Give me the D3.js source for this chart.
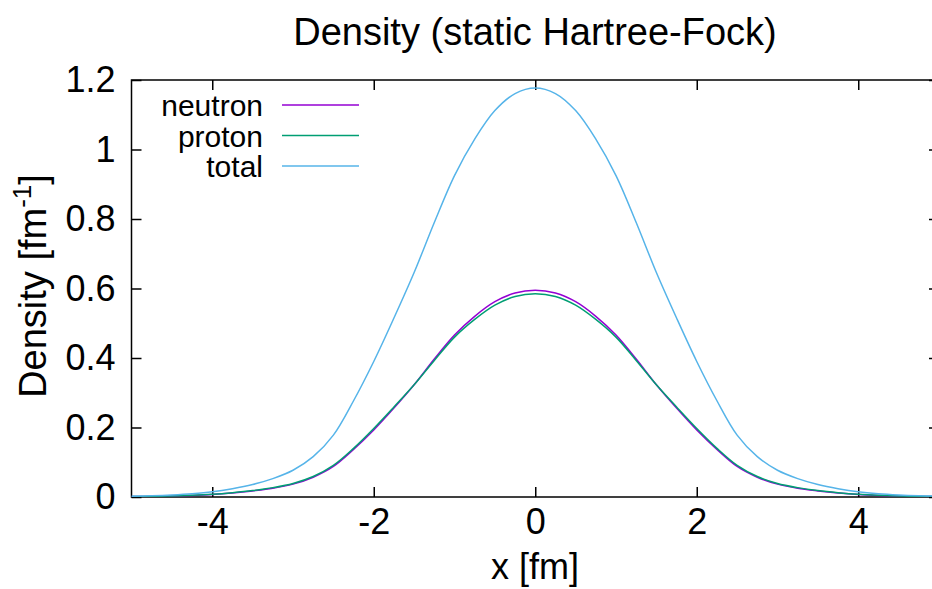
<!DOCTYPE html>
<html lang="en">
<head>
<meta charset="UTF-8">
<title>Density</title>
<script src="https://cdn.jsdelivr.net/npm/d3@7"></script>
<style>
    body { margin: 0; background: #fff; }
    text { font-family: "Liberation Sans", Arial, Helvetica, sans-serif; fill: #000; }
</style>
</head>
<body>
<div id="chart"></div>
<script>
    // data (x in fm, density in fm^-1), step 0.25 fm
    const xs = [-5, -4.75, -4.5, -4.25, -4, -3.75, -3.5, -3.25, -3, -2.75, -2.5, -2.25, -2, -1.75, -1.5, -1.25, -1, -0.75, -0.5, -0.25,
        0, 0.25, 0.5, 0.75, 1, 1.25, 1.5, 1.75, 2, 2.25, 2.5, 2.75, 3, 3.25, 3.5, 3.75, 4, 4.25, 4.5, 4.75, 5];
    const neutron = [0.0011, 0.0018, 0.0029, 0.0046, 0.0072, 0.0116, 0.0175, 0.025, 0.037, 0.057, 0.088, 0.137, 0.193, 0.256, 0.323, 0.397, 0.466, 0.520, 0.562, 0.587,
        0.595, 0.587, 0.562, 0.520, 0.466, 0.397, 0.323, 0.256, 0.193, 0.137, 0.088, 0.057, 0.037, 0.025, 0.0175, 0.0116, 0.0072, 0.0046, 0.0029, 0.0018, 0.0011];
    const proton = [0.0012, 0.0019, 0.0031, 0.0049, 0.0078, 0.0124, 0.0185, 0.027, 0.039, 0.059, 0.091, 0.140, 0.197, 0.259, 0.323, 0.393, 0.460, 0.511, 0.552, 0.577,
        0.585, 0.577, 0.552, 0.511, 0.460, 0.393, 0.323, 0.259, 0.197, 0.140, 0.091, 0.059, 0.039, 0.027, 0.0185, 0.0124, 0.0078, 0.0049, 0.0031, 0.0019, 0.0012];
    const total = [0.0023, 0.0037, 0.006, 0.0095, 0.015, 0.024, 0.036, 0.053, 0.077, 0.116, 0.178, 0.277, 0.390, 0.515, 0.646, 0.790, 0.925, 1.030, 1.112, 1.161,
        1.177, 1.161, 1.112, 1.030, 0.925, 0.790, 0.646, 0.515, 0.390, 0.277, 0.178, 0.116, 0.077, 0.053, 0.036, 0.024, 0.015, 0.0095, 0.006, 0.0037, 0.0023];

    const seriesNames  = ["neutron", "proton", "total"];
    const seriesColors = ["#9400d3", "#009e73", "#56b4e9"];

    const xTicks = [-4, -2, 0, 2, 4];
    const yTicks = [0, 0.2, 0.4, 0.6, 0.8, 1, 1.2];
    const yTickLabels = ["0", "0.2", "0.4", "0.6", "0.8", "1", "1.2"];

    const W = 932, H = 589;
    const margin = {top: 80, right: -7, bottom: 92, left: 131.5};
    const width = W - margin.left - margin.right,
        height = H - margin.top - margin.bottom;

    const svg = d3.select("#chart")
        .append("svg")
        .attr("width", W)
        .attr("height", H);

    const g = svg.append("g")
        .attr("transform", "translate(" + margin.left + "," + margin.top + ")");

    const x = d3.scaleLinear().domain([-5, 5]).range([0, width]);
    const y = d3.scaleLinear().domain([0, 1.2]).range([height, 0]);

    // axes, gnuplot style: ticks point inwards and are mirrored
    const styleAxis = sel => {
        sel.select(".domain").remove();
        sel.selectAll(".tick line").attr("stroke", "#000").attr("stroke-width", 1.5);
        sel.selectAll(".tick text").style("font-size", "36px");
    };

    g.append("g")
        .attr("transform", "translate(0," + height + ")")
        .call(d3.axisBottom(x).tickValues(xTicks).tickFormat(d => String(d))
            .tickSizeInner(-10).tickSizeOuter(0).tickPadding(11))
        .call(styleAxis);

    g.append("g")
        .call(d3.axisTop(x).tickValues(xTicks).tickFormat("")
            .tickSizeInner(-10).tickSizeOuter(0))
        .call(styleAxis);

    g.append("g")
        .call(d3.axisLeft(y).tickValues(yTicks).tickFormat((d, i) => yTickLabels[i])
            .tickSizeInner(-10).tickSizeOuter(0).tickPadding(16))
        .call(styleAxis);

    g.append("g")
        .attr("transform", "translate(" + width + ",0)")
        .call(d3.axisRight(y).tickValues(yTicks).tickFormat("")
            .tickSizeInner(-10).tickSizeOuter(0))
        .call(styleAxis);

    g.append("rect")
        .attr("width", width)
        .attr("height", height)
        .attr("fill", "none")
        .attr("stroke", "#000")
        .attr("stroke-width", 1.5);

    // curves
    g.append("clipPath").attr("id", "clip")
        .append("rect").attr("width", width).attr("height", height);

    const line = d3.line()
        .x((d, i) => x(xs[i]))
        .y(d => y(d))
        .curve(d3.curveCatmullRom.alpha(0.5));

    [neutron, proton, total].forEach((s, k) => {
        g.append("path")
            .datum(s)
            .attr("clip-path", "url(#clip)")
            .attr("fill", "none")
            .attr("stroke", seriesColors[k])
            .attr("stroke-width", 1.5)
            .attr("d", line);
    });

    // legend
    const legend = g.append("g");
    seriesNames.forEach((name, k) => {
        const ly = 25 + k * 30.5;
        legend.append("text")
            .attr("x", 263 - margin.left)
            .attr("y", ly + 11)
            .attr("text-anchor", "end")
            .style("font-size", "30px")
            .text(name);
        legend.append("line")
            .attr("x1", 282 - margin.left)
            .attr("x2", 359 - margin.left)
            .attr("y1", ly)
            .attr("y2", ly)
            .attr("stroke", seriesColors[k])
            .attr("stroke-width", 1.5);
    });

    // titles
    svg.append("text")
        .attr("x", 535)
        .attr("y", 45)
        .attr("text-anchor", "middle")
        .style("font-size", "38px")
        .text("Density (static Hartree-Fock)");

    svg.append("text")
        .attr("x", 535)
        .attr("y", 579)
        .attr("text-anchor", "middle")
        .style("font-size", "36px")
        .text("x [fm]");

    const yl = svg.append("text")
        .attr("transform", "translate(46,286) rotate(-90)")
        .attr("text-anchor", "middle")
        .style("font-size", "38px");
    yl.append("tspan").text("Density [fm");
    yl.append("tspan").attr("dy", -15).style("font-size", "26px").text("-1");
    yl.append("tspan").attr("dy", 15).text("]");
</script>
</body>
</html>
